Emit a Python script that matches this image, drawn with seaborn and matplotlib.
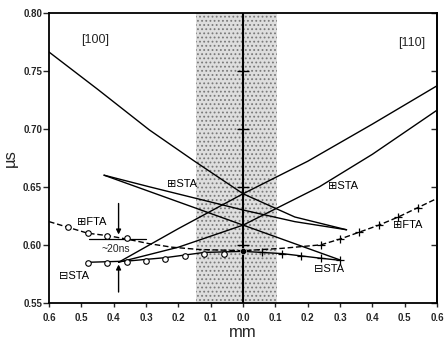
import pandas as pd
import matplotlib
matplotlib.use("Agg")
import matplotlib.pyplot as plt
import seaborn as sns

# [100] STA branches (distance in mm, arrival time in us)
x_100_upper = [-0.60, -0.45, -0.29, -0.15, 0.00, 0.16, 0.32]
t_100_upper = [0.766, 0.734, 0.699, 0.672, 0.644, 0.624, 0.613]
x_100_mid = [-0.43, -0.29, 0.00, 0.16, 0.32]
t_100_mid = [0.660, 0.650, 0.630, 0.620, 0.613]
x_100_lower = [-0.43, 0.00, 0.30]
t_100_lower = [0.660, 0.617, 0.587]

# [110] branches
x_110_upper = [-0.385, -0.20, 0.00, 0.20, 0.40, 0.60]
t_110_upper = [0.585, 0.614, 0.644, 0.672, 0.704, 0.737]
x_110_lower = [-0.385, -0.20, 0.00, 0.236, 0.40, 0.60]
t_110_lower = [0.585, 0.598, 0.617, 0.650, 0.678, 0.716]

# FTA (dashed) and minus-STA (solid) calculated curves
x_fta = [-0.60, -0.54, -0.48, -0.42, -0.36, -0.29, -0.22, -0.135, 0.00,
         0.12, 0.24, 0.30, 0.36, 0.42, 0.48, 0.54, 0.60]
t_fta = [0.620, 0.615, 0.610, 0.608, 0.605, 0.601, 0.598, 0.596, 0.595,
         0.597, 0.600, 0.605, 0.611, 0.617, 0.624, 0.632, 0.640]
x_sta = [-0.48, -0.36, -0.24, -0.12, 0.00, 0.12, 0.24, 0.30]
t_sta = [0.585, 0.586, 0.589, 0.5935, 0.5944, 0.5925, 0.5885, 0.5867]

# measured points
x_fta_circ = [-0.54, -0.48, -0.42, -0.36]
t_fta_circ = [0.615, 0.610, 0.608, 0.606]
x_fta_plus = [0.24, 0.30, 0.36, 0.42, 0.48, 0.54]
t_fta_plus = [0.600, 0.605, 0.611, 0.617, 0.624, 0.632]
x_sta_circ = [-0.48, -0.42, -0.36, -0.30, -0.24, -0.18, -0.12, -0.06]
t_sta_circ = [0.584, 0.584, 0.585, 0.5865, 0.588, 0.590, 0.592, 0.5925]
x_sta_plus = [0.06, 0.12, 0.18, 0.24, 0.30]
t_sta_plus = [0.594, 0.5925, 0.590, 0.5885, 0.5867]
x_center = [0.0]
t_center = [0.5944]

x_ticks = [-0.6, -0.5, -0.4, -0.3, -0.2, -0.1, 0.0, 0.1, 0.2, 0.3, 0.4, 0.5, 0.6]
y_ticks = [0.55, 0.60, 0.65, 0.70, 0.75, 0.80]

sns.set_style("ticks")
plt.rcParams["font.family"] = ["Liberation Sans", "DejaVu Sans"]
plt.rcParams["hatch.color"] = "#7a7a7a"
plt.rcParams["hatch.linewidth"] = 0.8

fig = plt.figure(figsize=(4.46, 3.40), dpi=100)
ax = fig.add_axes([0.110, 0.109, 0.870, 0.854])

ax.axvspan(-0.145, 0.105, facecolor="#dedede", hatch="....", edgecolor="#7a7a7a",
           linewidth=0, zorder=0)
ax.axvline(0, color="black", lw=1.5, zorder=1)
ax.plot([0] * 4, y_ticks[1:5], ls="none", marker="_", ms=8, mew=1, color="black")


def curve(x, t, **kw):
    df = pd.DataFrame({"x": x, "t": t})
    sns.lineplot(data=df, x="x", y="t", sort=False, estimator=None,
                 color="black", ax=ax, **kw)


curve(x_100_upper, t_100_upper, lw=1.0)
curve(x_100_mid, t_100_mid, lw=1.0)
curve(x_100_lower, t_100_lower, lw=1.0)
curve(x_110_upper, t_110_upper, lw=1.0)
curve(x_110_lower, t_110_lower, lw=1.0)
curve(x_sta, t_sta, lw=1.0)
curve(x_fta, t_fta, lw=1.0, linestyle=(0, (4, 2)))

# ~20 ns reference marks
ax.plot([-0.475, -0.30], [0.605, 0.605], color="black", lw=0.9)
ax.annotate("", xy=(-0.385, 0.6065), xytext=(-0.385, 0.638),
            arrowprops=dict(arrowstyle="-|>", color="black", lw=1, mutation_scale=7))
ax.annotate("", xy=(-0.385, 0.5855), xytext=(-0.385, 0.557),
            arrowprops=dict(arrowstyle="-|>", color="black", lw=1, mutation_scale=7))

sns.scatterplot(x=x_fta_circ, y=t_fta_circ, marker="o", s=16, facecolor="white",
                edgecolor="black", linewidth=0.8, ax=ax, zorder=3)
sns.scatterplot(x=x_sta_circ, y=t_sta_circ, marker="o", s=16, facecolor="white",
                edgecolor="black", linewidth=0.8, ax=ax, zorder=3)
sns.scatterplot(x=x_fta_plus, y=t_fta_plus, marker="+", s=30, color="black",
                linewidth=0.9, ax=ax, zorder=3)
sns.scatterplot(x=x_sta_plus, y=t_sta_plus, marker="+", s=30, color="black",
                linewidth=0.9, ax=ax, zorder=3)
sns.scatterplot(x=x_center, y=t_center, marker="o", s=20, color="black", ax=ax, zorder=3)

lab = dict(fontsize=8, color="black", va="center", ha="left")
ax.text(-0.457, 0.776, "[100]", fontsize=9, ha="center", va="center")
ax.text(0.522, 0.774, "[110]", fontsize=9, ha="center", va="center")
ax.text(-0.234, 0.652, "\u229eSTA", **lab)
ax.text(0.262, 0.651, "\u229eSTA", **lab)
ax.text(-0.515, 0.620, "\u229eFTA", **lab)
ax.text(0.463, 0.6167, "\u229eFTA", **lab)
ax.text(-0.568, 0.573, "\u229fSTA", **lab)
ax.text(0.218, 0.579, "\u229fSTA", **lab)
ax.text(-0.438, 0.5965, "~20ns", fontsize=7.5, ha="left", va="center")

ax.set_xlim(-0.6, 0.6)
ax.set_ylim(0.55, 0.80)
ax.set_xticks(x_ticks)
ax.set_xticklabels([f"{abs(v):.1f}" for v in x_ticks], fontsize=7, fontweight="bold")
ax.set_yticks(y_ticks)
ax.set_yticklabels([f"{v:.2f}" for v in y_ticks], fontsize=7, fontweight="bold")
ax.tick_params(axis="x", length=3, width=1, pad=4)
ax.tick_params(axis="y", length=4, width=1, pad=1)

right = ax.secondary_yaxis("right")
right.set_yticks(y_ticks)
right.tick_params(direction="in", length=4, width=1, labelright=False)

ax.set_xlabel("mm", fontsize=12)
ax.set_ylabel("\u00b5s", fontsize=12)
ax.xaxis.set_label_coords(0.5, -0.075)
ax.yaxis.set_label_coords(-0.08, 0.5)

for sp in ax.spines.values():
    sp.set_linewidth(1.3)
    sp.set_color("black")
right.spines["right"].set_linewidth(1.3)

fig.savefig("out.png", dpi=100)
